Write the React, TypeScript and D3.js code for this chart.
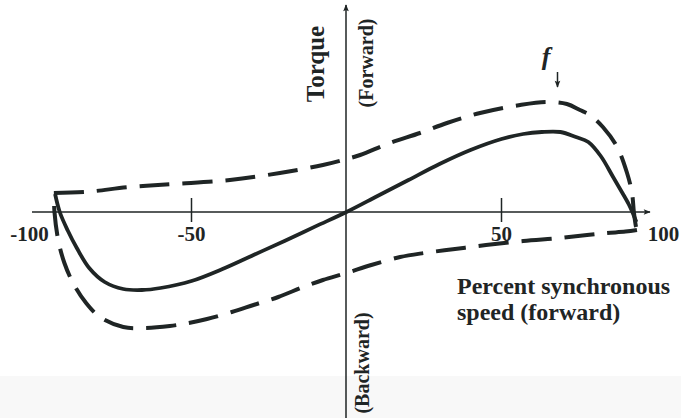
import * as d3 from 'd3'

// Torque-speed curves of a single-phase motor (solid = net torque, dashed = f component)
const W = 681
const H = 418
const INK = '#1f2525'
const FONT = '"Liberation Serif", "Times New Roman", serif'

// percent synchronous speed, torque (arbitrary units, + forward)
const solidSpeed = [-94, -92.5, -90, -87, -83, -78, -72, -66, -60, -50, -40, -30, -20, -10, 0, 10, 20, 30, 40, 50, 57, 63, 69, 74, 78, 82, 86, 89, 91, 92.2, 93.5]
const solidTorque = [9, 0, -9, -18, -28, -35, -38.5, -39, -38, -34.5, -28.5, -21.5, -14.5, -7.2, 0, 8, 16, 24, 31, 36.5, 39, 40, 40, 37.5, 35, 28, 17.5, 9.5, 4, 0, -5]

// dashed envelope, upper branch (left corner -> right corner)
const upperSpeed = [-94.4, -84.4, -69.8, -55.9, -37.6, -21.5, -7.6, 0, 4.4, 14, 23.7, 32.4, 43.1, 56, 64.7, 71.1, 75.3, 78.5, 82.7, 87.3, 90.5, 92.1, 92.7, 93.4, 93.7]
const upperTorque = [9.5, 10, 12.5, 14, 16, 19.5, 23.5, 26.5, 28.5, 34.5, 39.5, 44.5, 49.5, 53.5, 55, 54, 51, 48.5, 42.5, 32.5, 19.5, 9.5, 0, -7.5, -9]

// dashed envelope, lower branch (right corner -> left corner)
const lowerSpeed = [93.7, 90, 84, 77.6, 69, 57, 45, 35, 25, 17.3, 8, 0, -7.6, -14, -22, -30, -37, -45, -51, -57, -65, -72, -79.5, -84, -88.2, -91, -93, -94.2, -94.4]
const lowerTorque = [-9, -9.8, -10.5, -11.5, -13, -14.5, -16.5, -18.5, -20.5, -22.5, -26.5, -30.5, -34, -37.5, -42.5, -46.5, -50, -53.5, -55.5, -57, -58, -57.5, -52.5, -45.5, -35.5, -25.5, -14, 0, 9.5]

const tickValues = [-100, -50, 50, 100]
const tickLabels = ['-100', '-50', '50', '100']
const tickMarks = [-50, 50]

const x = d3.scaleLinear().domain([-100, 100]).range([36.5, 656.5])
const y = d3.scaleLinear().domain([-100, 100]).range([412, 12])

const zip = (a: number[], b: number[]) => a.map((v, i) => [v, b[i]] as [number, number])
const line = d3.line<[number, number]>()
  .x(d => x(d[0]))
  .y(d => y(d[1]))
  .curve(d3.curveCatmullRom.alpha(0.5))

export default function App() {
  const x0 = x(0) - 0.5
  const y0 = y(0)
  const solidPath = line(zip(solidSpeed, solidTorque)) || ''
  const upperPath = line(zip(upperSpeed, upperTorque)) || ''
  const lowerPath = line(zip(lowerSpeed, lowerTorque)) || ''

  return (
    <svg width={W} height={H} style={{ position: 'absolute', left: 0, top: 0, display: 'block', background: '#fff' }}>
      <defs>
        <marker id="ax-arrow" viewBox="0 0 10 10" refX="9" refY="5" markerWidth="9" markerHeight="7" markerUnits="userSpaceOnUse" orient="auto">
          <path d="M0,1 L10,5 L0,9 L2,5 Z" fill={INK} />
        </marker>
      </defs>

      <rect x={0} y={376} width={W} height={H - 376} fill="#f8f8f8" />

      {/* axes */}
      <line x1={32} y1={y0} x2={650} y2={y0} stroke={INK} strokeWidth={1.5} markerEnd="url(#ax-arrow)" />
      <line x1={x0} y1={H} x2={x0} y2={5} stroke={INK} strokeWidth={1.5} markerEnd="url(#ax-arrow)" />

      {tickMarks.map(v => (
        <line key={v} x1={x(v)} x2={x(v)} y1={y0 - 14} y2={y0 + 10} stroke={INK} strokeWidth={1.5} />
      ))}

      {tickValues.map((v, i) => (
        <text key={v} x={x(v) + (Math.abs(v) === 100 ? Math.sign(v) * 7 : 0)} y={241}
          textAnchor="middle" fontFamily={FONT} fontWeight="bold" fontSize={21} fill={INK}>
          {tickLabels[i]}
        </text>
      ))}

      {/* curves */}
      <path d={upperPath} fill="none" stroke={INK} strokeWidth={4} strokeDasharray="30,13" />
      <path d={lowerPath} fill="none" stroke={INK} strokeWidth={4} strokeDasharray="30,13" />
      <path d={solidPath} fill="none" stroke={INK} strokeWidth={3.8} strokeLinejoin="round" />

      {/* axis titles */}
      <text transform={`translate(324,64) rotate(-90)`} textAnchor="middle"
        fontFamily={FONT} fontWeight="bold" fontSize={25} fill={INK}>Torque</text>
      <text transform={`translate(373,63) rotate(-90)`} textAnchor="middle"
        fontFamily={FONT} fontWeight="bold" fontSize={20} fill={INK}>(Forward)</text>
      <text transform={`translate(369,363) rotate(-90)`} textAnchor="middle"
        fontFamily={FONT} fontWeight="bold" fontSize={20} fill={INK}>(Backward)</text>

      <text x={457} y={294} fontFamily={FONT} fontWeight="bold" fontSize={24} fill={INK}>Percent synchronous</text>
      <text x={457} y={320} fontFamily={FONT} fontWeight="bold" fontSize={24} fill={INK}>speed (forward)</text>

      {/* f marker */}
      <text x={546} y={65} textAnchor="middle" fontFamily={FONT} fontWeight="bold" fontStyle="italic" fontSize={26} fill={INK}>f</text>
      <line x1={557.5} y1={72} x2={557.5} y2={87} stroke={INK} strokeWidth={1.5} markerEnd="url(#ax-arrow)" />
    </svg>
  )
}
